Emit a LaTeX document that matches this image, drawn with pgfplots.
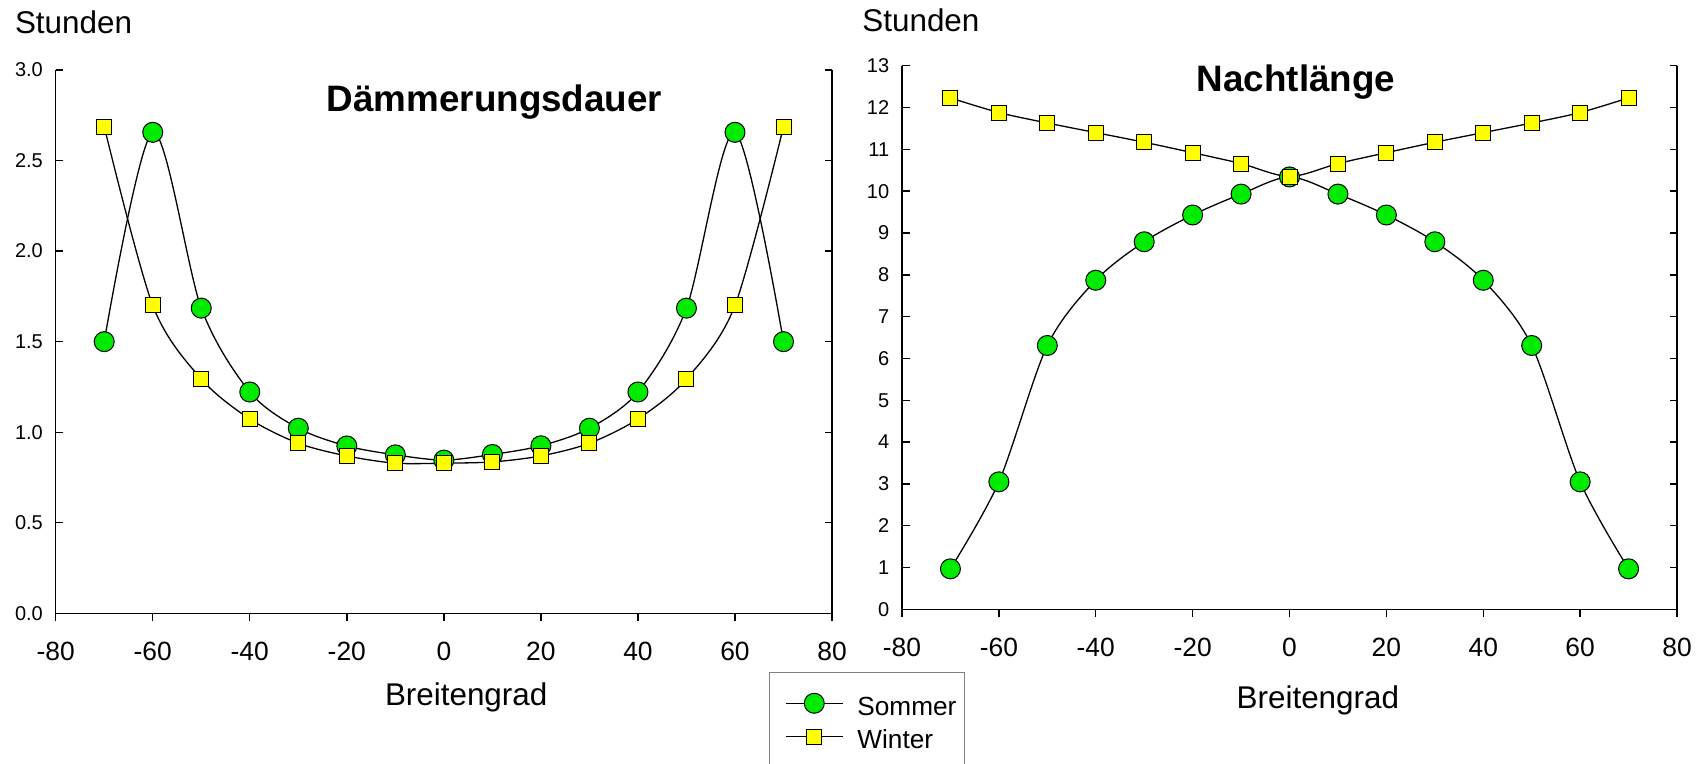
\documentclass[border=0pt]{standalone}
\usepackage{pgfplots}
\pgfplotsset{compat=1.18}
\usepackage{pgfplotstable}
\usepackage{fontspec}
\setmainfont{Liberation Sans}
\definecolor{sgreen}{RGB}{0,235,0}
\definecolor{syellow}{RGB}{255,255,0}

\pgfplotstableread{
x S W
-70 1.500 2.687
-60 2.656 1.700
-50 1.685 1.294
-40 1.222 1.073
-30 1.022 0.939
-20 0.924 0.869
-10 0.875 0.829
0 0.846 0.829
10 0.877 0.836
20 0.925 0.869
30 1.022 0.939
40 1.222 1.073
50 1.685 1.294
60 2.656 1.700
70 1.500 2.687
}\daemmerung

\pgfplotstableread{
x S W
-70 0.97 12.23
-60 3.05 11.88
-50 6.31 11.63
-40 7.87 11.40
-30 8.79 11.17
-20 9.43 10.92
-10 9.93 10.66
0 10.34 10.35
10 9.93 10.66
20 9.43 10.92
30 8.79 11.17
40 7.87 11.40
50 6.31 11.63
60 3.05 11.88
70 0.97 12.23
}\nacht

\pgfplotsset{
 myaxis/.style={
  scale only axis,
  axis x line*=bottom,
  axis y line*=box,
  xmin=-80,xmax=80,
  xtick={-80,-60,...,80},
  tick align=inside,
  major tick length=3.75pt,
  x tick style={yshift=-3.75pt},
  tick style={black, line width=0.7pt},
  axis line style={black, line width=0.7pt},
  xticklabel style={font=\fontsize{13.2}{14}\selectfont, yshift=-10.7pt},
  yticklabel style={font=\fontsize{10}{12}\selectfont, xshift=-2.9pt},
  /pgf/number format/assume math mode=true,
  clip=false,
 },
 somm/.style={black, line width=0.65pt, smooth, mark=*, mark size=5pt,
   mark options={fill=sgreen, draw=black, line width=0.5pt}},
 wint/.style={black, line width=0.65pt, smooth, mark=square*, mark size=3.75pt,
   mark options={fill=syellow, draw=black, line width=0.5pt}},
}

\begin{document}
\begin{tikzpicture}
\begin{axis}[myaxis,
  at={(27.85pt,-306.65pt)}, anchor=south west,
  width=388.15pt, height=271.65pt,
  ymin=0, ymax=3, ytick={0,0.5,...,3},
  yticklabel style={/pgf/number format/.cd, fixed, fixed zerofill, precision=1},
]
\addplot[somm] table[x=x,y=S] {\daemmerung};
\addplot[wint] table[x=x,y=W] {\daemmerung};
\end{axis}

\begin{axis}[myaxis,
  at={(451pt,-304.7pt)}, anchor=south west,
  width=387.5pt, height=271.85pt,
  ymin=0, ymax=13, ytick={0,1,...,13},
  legend style={at={(-0.1716,-0.1145)}, anchor=north west, draw=gray, line width=0.6pt,
    fill=white, inner xsep=4.15pt, inner ysep=9.9pt, font=\fontsize{13.1}{14}\selectfont,
    row sep=0pt, nodes={inner sep=0pt, anchor=base west, text height=11.6pt, text depth=5.1pt},
    /tikz/every odd column/.append style={column sep=7pt}},
  legend cell align=left,
  legend image code/.code={
    \path (-3.6pt,6pt);
    \draw[mark repeat=2,mark phase=2,#1] plot coordinates {(0pt,6pt) (14.25pt,6pt) (28.5pt,6pt)};
  },
]
\addplot[somm] table[x=x,y=S] {\nacht};
\addlegendentry{Sommer}
\addplot[wint] table[x=x,y=W] {\nacht};
\addlegendentry{Winter}
\end{axis}

\node[anchor=base, inner sep=0pt, font=\bfseries\fontsize{18.4}{20}\selectfont] at (247.25pt,-55.85pt) {Dämmerungsdauer};
\node[anchor=base, inner sep=0pt, font=\bfseries\fontsize{18.4}{20}\selectfont] at (648pt,-45.85pt) {Nachtlänge};
\node[anchor=base west, inner sep=0pt, font=\fontsize{15.7}{17}\selectfont] at (7.3pt,-16.65pt) {Stunden};
\node[anchor=base west, inner sep=0pt, font=\fontsize{15.7}{17}\selectfont] at (431pt,-15.85pt) {Stunden};
\node[anchor=base west, inner sep=0pt, font=\fontsize{15.7}{17}\selectfont] at (192.3pt,-352.5pt) {Breitengrad};
\node[anchor=base west, inner sep=0pt, font=\fontsize{15.7}{17}\selectfont] at (618.15pt,-354.15pt) {Breitengrad};

\pgfresetboundingbox
\path[use as bounding box] (0pt,0pt) rectangle (851.5pt,-382pt);
\end{tikzpicture}
\end{document}
